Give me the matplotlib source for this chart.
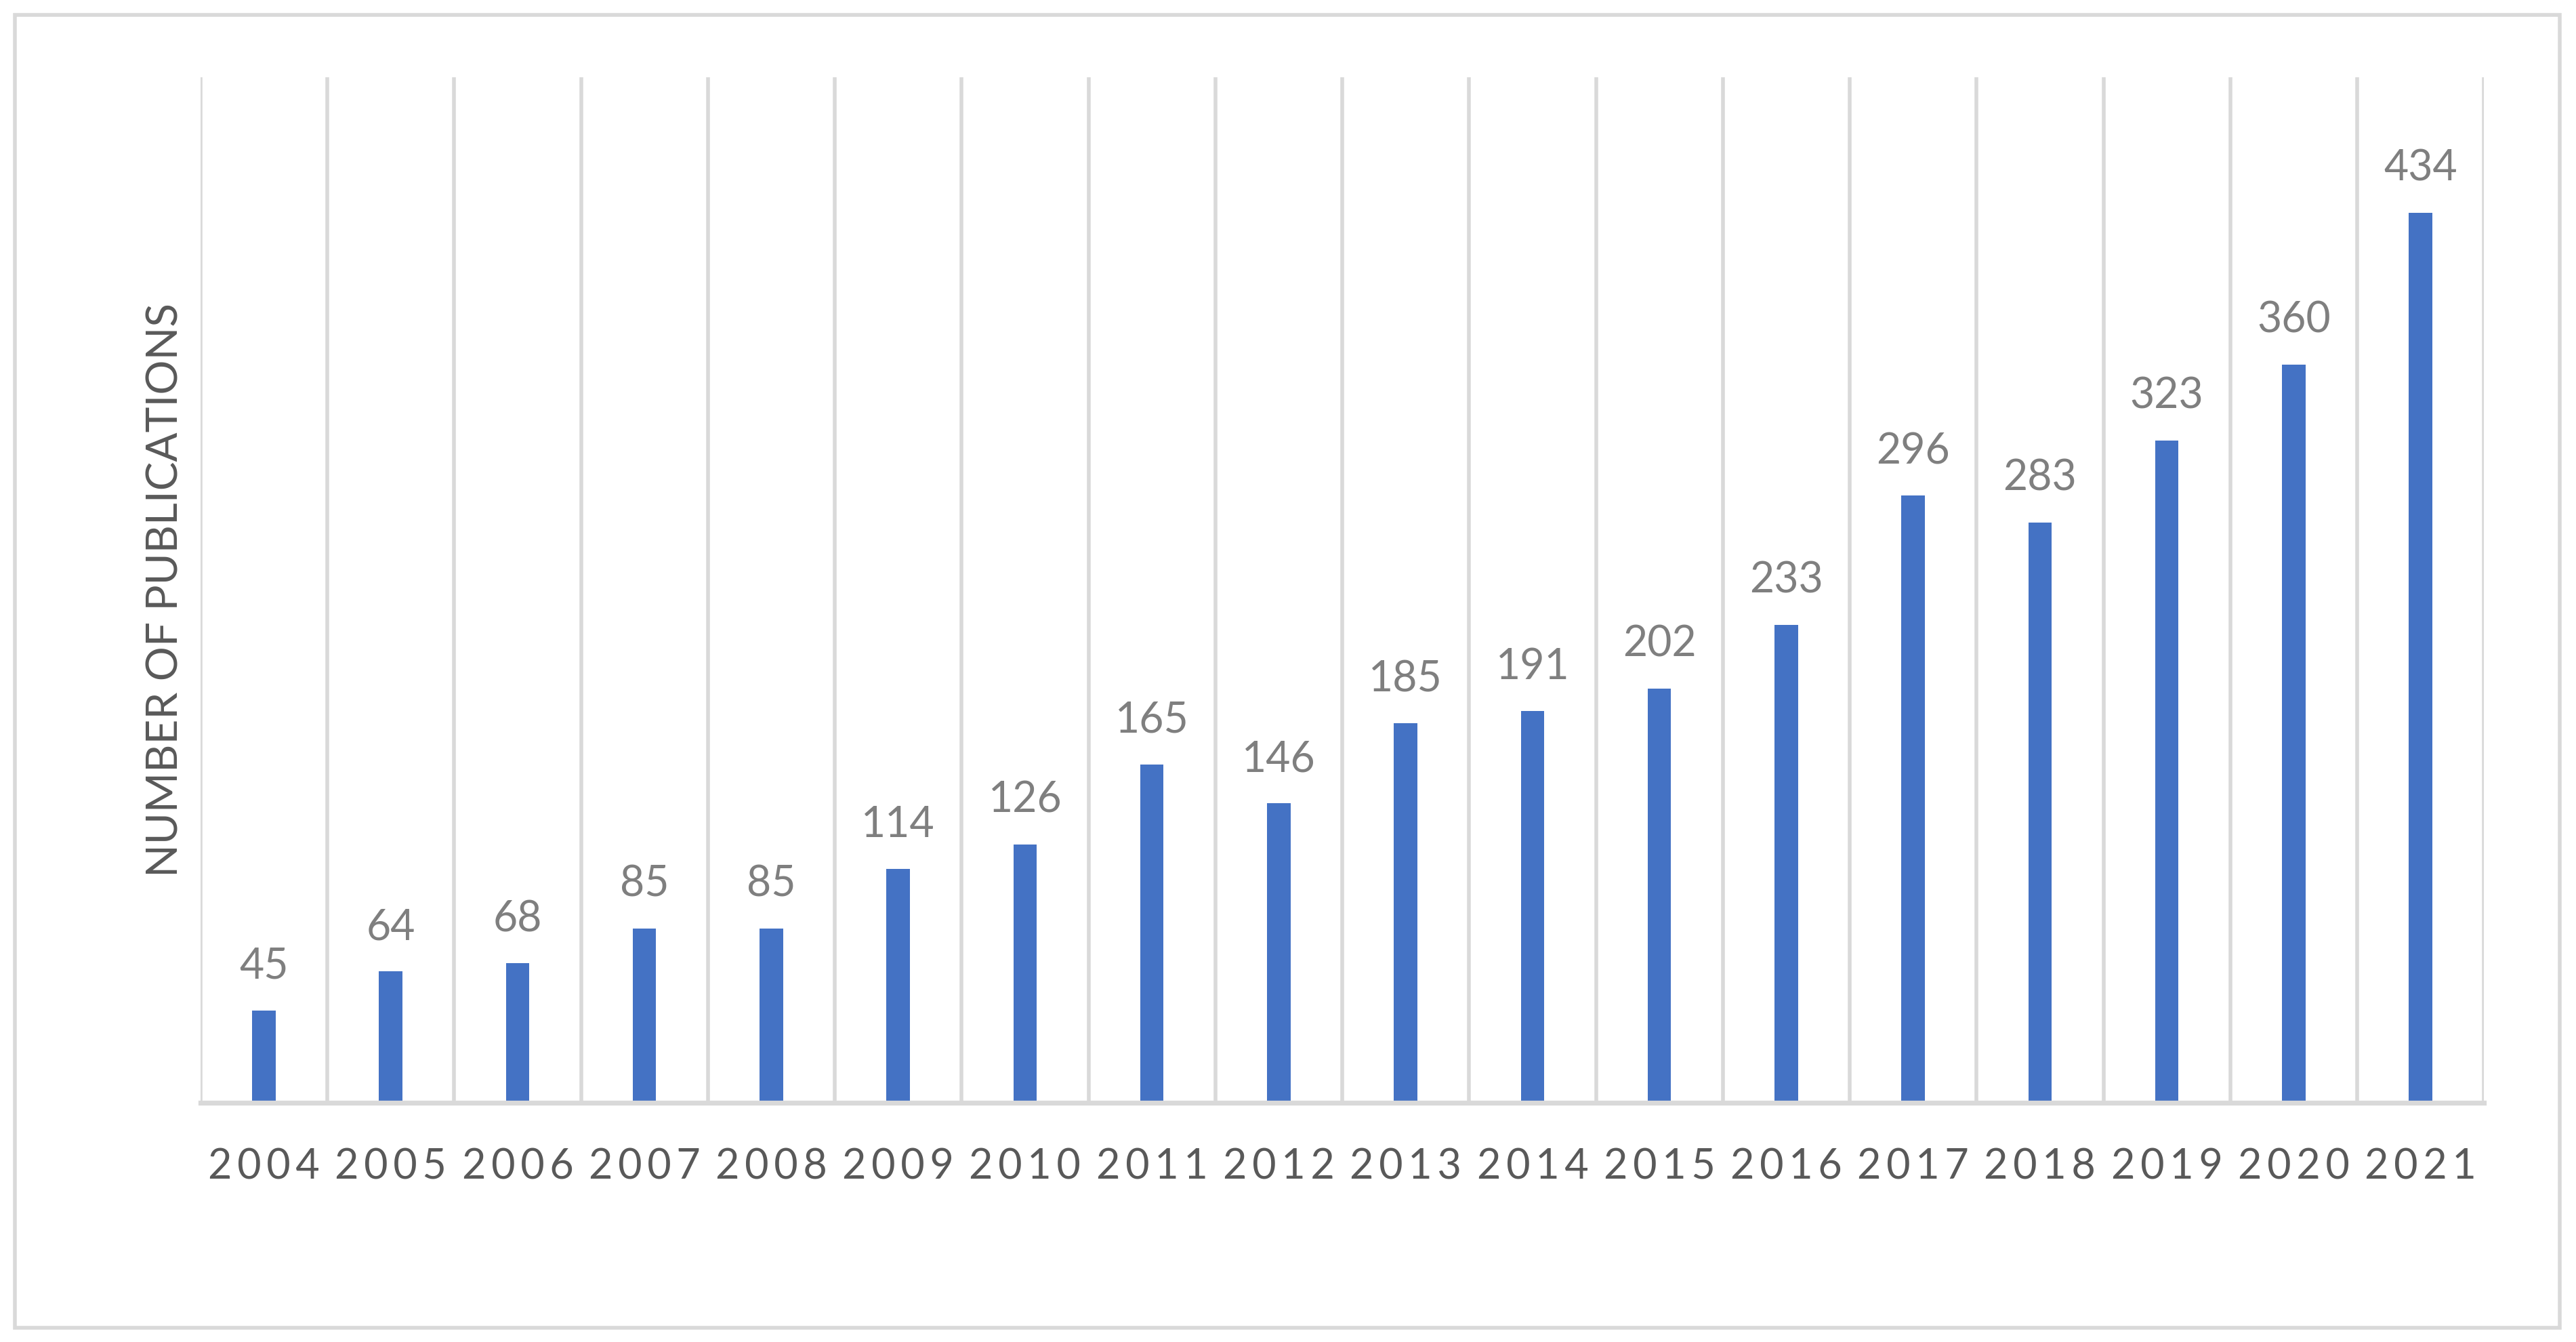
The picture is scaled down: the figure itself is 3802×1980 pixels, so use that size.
import numpy as np
import matplotlib
matplotlib.use("Agg")
from matplotlib import pyplot as plt
from matplotlib.patches import Rectangle

# data
years = [str(y) for y in range(2004, 2022)]
publications = [45, 64, 68, 85, 85, 114, 126, 165, 146, 185, 191, 202, 233, 296, 283, 323, 360, 434]

bar_color = "#4472C4"
grid_color = "#D9D9D9"
text_dark = "#595959"
text_light = "#7F7F7F"

plt.rcParams['font.family'] = ['Lato', 'DejaVu Sans']

fig = plt.figure(figsize=(19.01, 9.9), dpi=200)
ax = fig.add_axes([0.0778, 0.1783, 0.8865, 0.7641])

x = np.arange(len(years))
bars = ax.bar(x, publications, width=0.185, color=bar_color, zorder=3)
ax.bar_label(bars, labels=[str(v) for v in publications], padding=13,
             fontsize=22.5, color=text_light)

ax.set_xlim(-0.5, len(years) - 0.5)
ax.set_ylim(0, 500)

# vertical gridlines on category boundaries
for b in np.arange(-0.5, len(years), 1.0):
    ax.axvline(b, color=grid_color, lw=2.0, zorder=1)

for s in ['top', 'right', 'left']:
    ax.spines[s].set_visible(False)
ax.spines['bottom'].set_color(grid_color)
ax.spines['bottom'].set_linewidth(2.6)
ax.spines['bottom'].set_zorder(4)

ax.set_yticks([])
ax.set_xticks(x)
ax.set_xticklabels(["\u2009".join(y) for y in years], fontsize=22, color=text_dark)
ax.tick_params(axis='x', length=0, pad=24)

ax.set_ylabel("NUMBER OF PUBLICATIONS", fontsize=23, color=text_dark, labelpad=8)

# outer chart border
fig.patches.append(Rectangle((0.0057, 0.0105), 0.9879, 0.9785, transform=fig.transFigure,
                             fill=False, edgecolor=grid_color, lw=2.0))

fig.savefig("out.png", dpi=200, facecolor="white")
